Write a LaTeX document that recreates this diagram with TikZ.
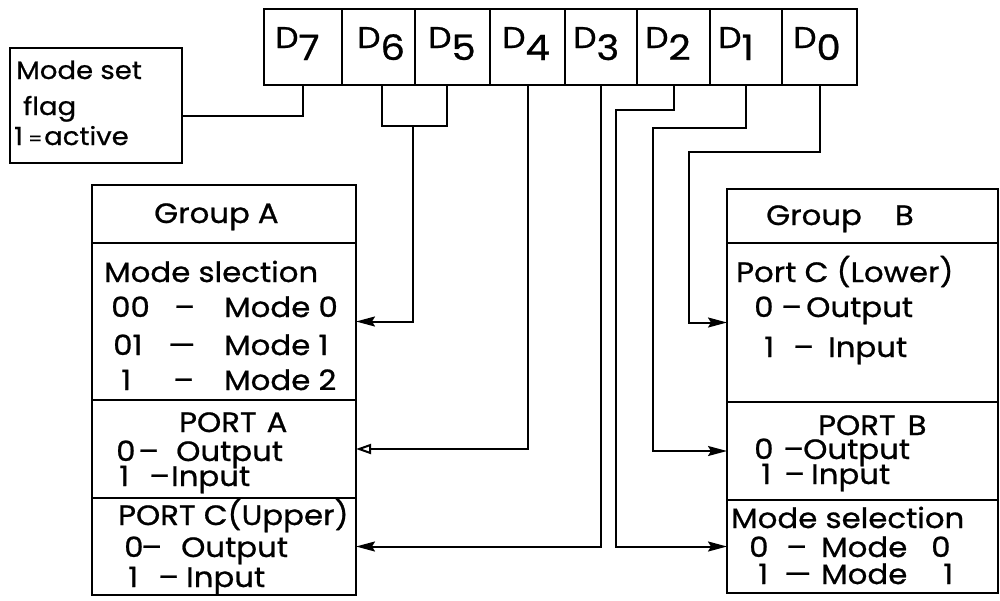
\documentclass[tikz,border=0pt]{standalone}
\usepackage{fontspec}
\setmainfont{Poppins}[FakeStretch=1.1,FakeBold=0.8]
\usetikzlibrary{arrows.meta}
\newcommand\myfs[1]{\fontsize{#1}{#1}\selectfont}
\newcommand\cc[2]{\makebox[#1pt][l]{#2}}
\newcommand\dig[1]{\raisebox{-12pt}{\myfs{35}#1}}
\begin{document}
\begin{tikzpicture}[x=1pt,y=-1pt, line width=2.4pt,
  sect/.style={draw, rectangle, inner sep=0pt, outer sep=0pt},
  txt/.style={anchor=base west, inner sep=0pt, font=\myfs{28}},
  smalltxt/.style={anchor=base west, inner sep=0pt, font=\myfs{25}},
  regtxt/.style={anchor=base west, inner sep=0pt, font=\myfs{30}},
  conn/.style={line width=2pt},
  farr/.style={conn, -{Stealth[length=19pt,width=10pt,inset=3pt]}},
  oarr/.style={conn, -{Triangle[open,length=15pt,width=10pt]}}]
\useasboundingbox (0,0) rectangle (1000,600);
% register
\node[sect, minimum width=78, minimum height=76] (d7) at (303,47) {};
\node[sect, minimum width=73, minimum height=76] (d6) at (378.5,47) {};
\node[sect, minimum width=75, minimum height=76] (d5) at (452.5,47) {};
\node[sect, minimum width=75, minimum height=76] (d4) at (527.5,47) {};
\node[sect, minimum width=72, minimum height=76] (d3) at (601,47) {};
\node[sect, minimum width=73, minimum height=76] (d2) at (673.5,47) {};
\node[sect, minimum width=72, minimum height=76] (d1) at (746,47) {};
\node[sect, minimum width=75, minimum height=76] (d0) at (819.5,47) {};
\node[regtxt] (l7) at (274,48) {D\dig{7}};
\node[regtxt] (l6) at (356,48) {D\dig{6}};
\node[regtxt] (l5) at (427,48) {D\dig{5}};
\node[regtxt] (l4) at (501,48) {D\dig{4}};
\node[regtxt] (l3) at (572,48) {D\dig{3}};
\node[regtxt] (l2) at (644,48) {D\dig{2}};
\node[regtxt] (l1) at (717,48) {D\dig{1}};
\node[regtxt] (l0) at (792,48) {D\dig{0}};
% mode set flag
\node[sect, minimum width=172, minimum height=115] (ms) at (96,105.5) {};
\node[smalltxt] (ms1) at (15,79) {Mode set};
\node[smalltxt] (ms2) at (22,115) {flag};
\node[smalltxt] (ms3) at (13,145) {\cc{14}{1}\cc{16}{\myfs{18}=}active};
% group A
\node[sect, minimum width=264, minimum height=58] (gAt) at (224,214) {};
\node[sect, minimum width=264, minimum height=157] (gAm) at (224,321.5) {};
\node[sect, minimum width=264, minimum height=98] (gApa) at (224,449) {};
\node[sect, minimum width=264, minimum height=97] (gApc) at (224,546.5) {};
\node[txt] (a1) at (153,223) {Group\hspace{8pt}A};
\node[txt] (a2) at (103,282) {Mode slection};
\node[txt] (a3) at (110,317) {\cc{63}{00}\cc{50}{–}Mode 0};
\node[txt] (a4) at (112,355) {\cc{55}{01}\cc{56}{—}Mode 1};
\node[txt] (a5) at (120,390) {\cc{52}{1}\cc{51}{–}Mode 2};
\node[txt] (a6) at (178,432) {PORT\hspace{10pt}A};
\node[txt] (a7) at (115,461) {\cc{22}{0}\cc{38}{–}Output};
\node[txt] (a8) at (118,486) {\cc{30}{1}\cc{22}{–}Input};
\node[txt] (a9) at (117,525) {PORT C(Upper)};
\node[txt] (a10) at (123,557) {\cc{17}{0}\cc{40}{–}Output};
\node[txt] (a11) at (127,587) {\cc{30}{1}\cc{28}{–}Input};
% group B
\node[sect, minimum width=271, minimum height=54] (gBt) at (862.5,216) {};
\node[sect, minimum width=271, minimum height=159] (gBpc) at (862.5,322.5) {};
\node[sect, minimum width=271, minimum height=98] (gBpb) at (862.5,451) {};
\node[sect, minimum width=271, minimum height=93] (gBm) at (862.5,546.5) {};
\node[txt] (b1) at (765,225) {Group\hspace{33pt}B};
\node[txt] (b2) at (735,282) {Port C (Lower)};
\node[txt] (b3) at (753,317) {\cc{27}{0}\cc{25}{–}Output};
\node[txt] (b4) at (763,357) {\cc{29}{1}\cc{35}{–}Input};
\node[txt] (b5) at (817,435) {PORT\hspace{12pt}B};
\node[txt] (b6) at (753,459) {\cc{29}{0}\cc{20}{–}Output};
\node[txt] (b7) at (760,484) {\cc{23}{1}\cc{27}{–}Input};
\node[txt] (b8) at (730,528) {Mode selection};
\node[txt] (b9) at (748,557) {\cc{37}{0}\cc{35}{–}\cc{110}{Mode}0};
\node[txt] (b10) at (757,584) {\cc{26}{1}\cc{37}{—}\cc{122}{Mode}1};
% connectors
\coordinate (j65) at (413,126);
\coordinate (j2) at (616,110);
\coordinate (j1) at (653,128);
\coordinate (j0) at (689,152);
\draw[conn] (d7.south) |- (ms.east |- 0,116);
\draw[conn] ([xshift=3.5pt]d6.south) |- (j65) -| ([xshift=-5.5pt]d5.south);
\draw[farr] (j65) |- (gAm.east);
\draw[oarr] (d4.south) |- (gApa.east);
\draw[farr] (d3.south) |- (gApc.east);
\draw[farr] (d2.south) |- (j2) |- (gBm.west);
\draw[farr] (d1.south) |- (j1) |- (gBpb.west);
\draw[farr] (d0.south) |- (j0) |- (gBpc.west);
\end{tikzpicture}
\end{document}
